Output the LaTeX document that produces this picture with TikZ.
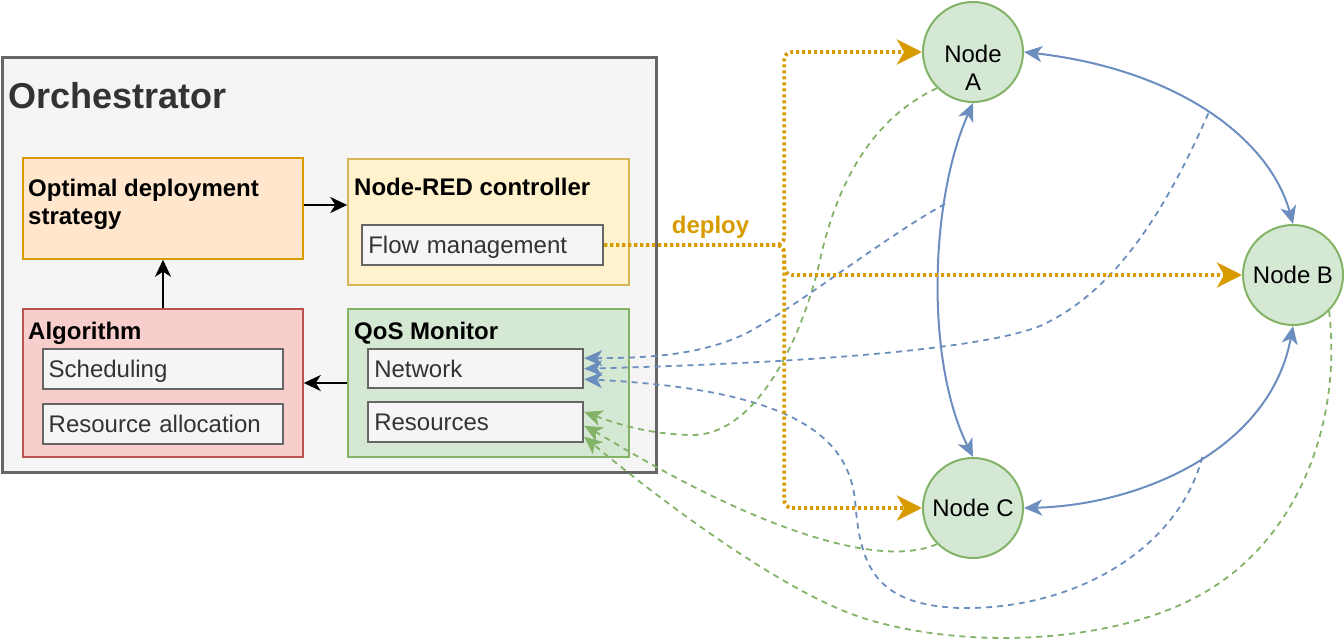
\documentclass[tikz,border=0pt]{standalone}
\usepackage{fontspec}
\setmainfont{Liberation Sans}
\usetikzlibrary{arrows.meta}
\definecolor{cOrange}{HTML}{D79B00}
\definecolor{cBlue}{HTML}{6C8EBF}
\definecolor{cGreen}{HTML}{82B366}
\definecolor{cGreenFill}{HTML}{D5E8D4}
\definecolor{cGray}{HTML}{666666}
\definecolor{cLight}{HTML}{F5F5F5}
\definecolor{cText}{HTML}{333333}
\definecolor{cOptFill}{HTML}{FFE6CC}
\definecolor{cNrFill}{HTML}{FFF2CC}
\definecolor{cNrDraw}{HTML}{D6B656}
\definecolor{cAlgFill}{HTML}{F8CECC}
\definecolor{cAlgDraw}{HTML}{B85450}
\newcommand\dgReg{\fontsize{24}{28}\selectfont}
\newcommand\dgBold{\fontsize{24}{27.5}\selectfont\bfseries}
\begin{document}
\begin{tikzpicture}[x=1pt,y=-1pt,
  orchbox/.style={draw=cGray, fill=cLight, line width=3pt, inner sep=0pt},
  colbox/.style={line width=1.5pt, inner sep=0pt},
  inbox/.style={draw=cGray, fill=cLight, line width=1.8pt, inner sep=0pt, inner xsep=6pt, align=left, text height=17pt, text depth=0pt, font=\dgReg, text=cText},
  boxtitle/.style={inner sep=0pt, font=\dgBold, anchor=base west},
  nodecirc/.style={circle, draw=cGreen, fill=cGreenFill, line width=2pt, minimum size=100pt, inner sep=0pt, font=\dgReg},
  blackarrow/.style={line width=2pt, -{Stealth[length=17pt,width=16pt,inset=5pt]}},
  deployline/.style={draw=cOrange, line width=3.8pt, dash pattern=on 3pt off 3pt, rounded corners=8pt, -{Stealth[length=25pt,width=25pt,inset=7pt]}},
  linkline/.style={draw=cBlue, line width=2pt, {Stealth[length=18pt,width=16pt,inset=5pt]}-{Stealth[length=18pt,width=16pt,inset=5pt]}},
  bluedash/.style={draw=cBlue, line width=1.8pt, dash pattern=on 6pt off 5pt, -{Stealth[length=18pt,width=16pt,inset=5pt]}},
  greendash/.style={draw=cGreen, line width=1.8pt, dash pattern=on 6pt off 5pt, -{Stealth[length=18pt,width=16pt,inset=5pt]}}
]
\useasboundingbox (0,0) rectangle (1344,642);

% Orchestrator
\node[orchbox, minimum width=654pt, minimum height=414pt] (orch) at (329,265) {};
\node[inner sep=0pt, anchor=base west, font=\fontsize{36}{40}\selectfont\bfseries, text=cText] (orchtitle) at (8,108) {Orchestrator};

% Boxes
\node[colbox, draw=cOrange, fill=cOptFill, minimum width=280pt, minimum height=101pt] (opt) at (163,208.5) {};
\node[inner sep=0pt, anchor=north west, align=left, font=\dgBold] (opttitle) at (28,179) {Optimal deployment\\strategy};

\node[colbox, draw=cNrDraw, fill=cNrFill, minimum width=281pt, minimum height=126pt] (nr) at (488.5,222) {};
\node[boxtitle] (nrtitle) at (354,195) {Node-RED controller};
\node[inbox, minimum width=241pt, minimum height=40pt, text width=229pt] (flow) at (482.8,245) {Flow management};

\node[colbox, draw=cAlgDraw, fill=cAlgFill, minimum width=280pt, minimum height=148pt] (alg) at (163,383) {};
\node[boxtitle] (algtitle) at (28,339) {Algorithm};
\node[inbox, minimum width=240.6pt, minimum height=40pt, text width=228.6pt] (sched) at (163,369.3) {Scheduling};
\node[inbox, minimum width=240.6pt, minimum height=40pt, text width=228.6pt] (resalloc) at (163,424.3) {Resource allocation};

\node[colbox, draw=cGreen, fill=cGreenFill, minimum width=281pt, minimum height=148pt] (qos) at (488.5,383) {};
\node[boxtitle] (qostitle) at (354,339) {QoS Monitor};
\node[inbox, minimum width=215pt, minimum height=39.3pt, text width=203pt] (net) at (475.8,368.7) {Network};
\node[inbox, minimum width=215pt, minimum height=40pt, text width=203pt] (res) at (475.8,421.7) {Resources};

% internal arrows
\draw[blackarrow] ([yshift=3.5pt]opt.east) -- ([yshift=3.5pt]opt.east -| nr.west);
\draw[blackarrow] (alg.north) -- (opt.south);
\draw[blackarrow] (qos.west) -- (alg.east);

% Device nodes
\node[nodecirc] (A) at (973,52) {};
\node[inner sep=0pt, anchor=north, align=center, font=\fontsize{24}{28}\selectfont] (Atext) at (973,44.8) {Node\\A};
\node[nodecirc] (B) at (1293,275) {Node B};
\node[nodecirc] (C) at (973,508) {Node C};

% solid links between nodes
\draw[linkline] (A.east) .. controls (1180,70) and (1270,140) .. (B.north) coordinate[pos=0.5] (abmid);
\draw[linkline] (A.south) .. controls (930,200) and (925,360) .. (C.north) coordinate[pos=0.3] (acmid);
\draw[linkline] (B.south) .. controls (1270,450) and (1140,505) .. (C.east) coordinate[pos=0.47] (bcmid);

% network monitoring (blue dashed)
\draw[bluedash] (acmid) .. controls (880,240) and (800,305) .. (745,334) .. controls (700,355) and (650,358) .. ([yshift=10.5pt]net.east);
\draw[bluedash] (abmid) .. controls (1170,200) and (1120,290) .. (1040,326) .. controls (980,350) and (800,363) .. (net.east);
\draw[bluedash] (bcmid) .. controls (1180,545) and (1080,610) .. (960,608) .. controls (870,605) and (860,560) .. (855,500) .. controls (848,440) and (800,390) .. ([yshift=-10.5pt]net.east);

% resource monitoring (green dashed)
\draw[greendash] (A.south west) .. controls (880,115) and (840,170) .. (820,260) .. controls (805,328) and (760,437) .. (690,435) .. controls (650,434) and (620,425) .. ([yshift=9.7pt]res.east);
\draw[greendash] (C.south west) .. controls (890,565) and (800,540) .. (700,490) .. controls (650,465) and (610,440) .. ([yshift=-4pt]res.east);
\draw[greendash] (B.south east) .. controls (1342,420) and (1300,540) .. (1200,595) .. controls (1110,645) and (960,650) .. (860,617) .. controls (780,590) and (660,500) .. ([yshift=-15pt]res.east);

% deploy connectors
\draw[deployline] (flow.east) -- ++(180,0) |- (A.west);
\draw[deployline] (flow.east) -- ++(180,0) |- (B.west);
\draw[deployline] (flow.east) -- ++(180,0) |- (C.west);
\node[inner sep=0pt, anchor=base, font=\dgBold, text=cOrange] (deploylabel) at (710.5,233) {deploy};
\end{tikzpicture}
\end{document}
